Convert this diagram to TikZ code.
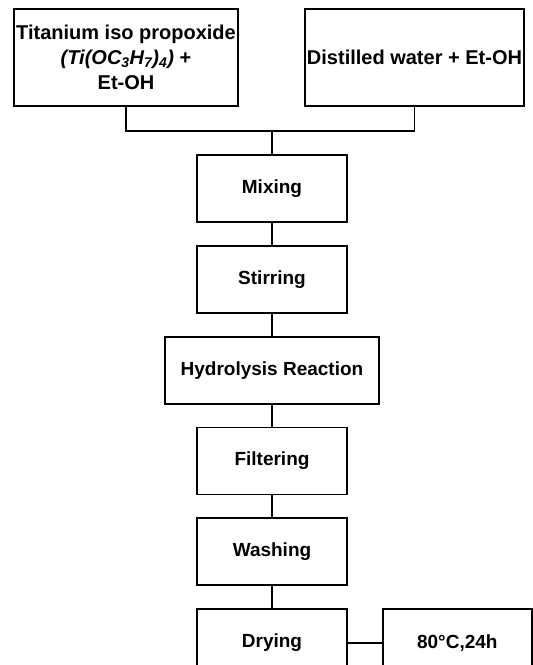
\documentclass[tikz,border=0pt]{standalone}
\usepackage{fontspec}
\setmainfont{Liberation Sans}
\usetikzlibrary{positioning}
\begin{document}
\begin{tikzpicture}[x=1pt,y=1pt,node distance=22pt,
        stepbox/.style={draw, rectangle, line width=1.8pt, minimum width=150pt, minimum height=67pt, inner sep=2pt, align=center, font=\fontsize{19}{24}\selectfont\bfseries},
        topbox/.style={stepbox, minimum height=97pt, font=\fontsize{20}{25}\selectfont\bfseries},
        link/.style={line width=1.5pt}]
        \useasboundingbox (0,0) rectangle (533,-665);
        \node (tip) [topbox, minimum width=224pt] at (126,-57.5) {Titanium iso propoxide\\ \textit{(Ti(OC\textsubscript{3}H\textsubscript{7})\textsubscript{4})} +\\ Et-OH};
        \node (water) [topbox, minimum width=219pt] at (414.5,-57.5) {Distilled water + Et-OH};
        \coordinate (join) at (272,-131);
        
        \node (mix) [stepbox] at (272,-188.5) {Mixing};
        \node (stir) [stepbox, below=of mix] {Stirring};
        \node (hydro) [stepbox, below=of stir, minimum width=214pt] {Hydrolysis Reaction};
        \node (filter) [stepbox, below=of hydro] {Filtering};
        \node (wash) [stepbox, below=of filter] {Washing};
        \node (dry) [stepbox, below=of wash, minimum height=68pt] {Drying};
        \node (temp) [stepbox, right=34pt of dry, minimum width=149pt, minimum height=68pt] {80°C,24h};
        
        \draw[link] (tip.south) |- (join) -| (water.south);
        \draw[link] (join) -- (mix);
        \draw[link] (mix) -- (stir);
        \draw[link] (stir) -- (hydro);
        \draw[link] (hydro) -- (filter);
        \draw[link] (filter) -- (wash);
        \draw[link] (wash) -- (dry);
        \draw[link] (dry) -- (temp);
    \end{tikzpicture}
\end{document}
